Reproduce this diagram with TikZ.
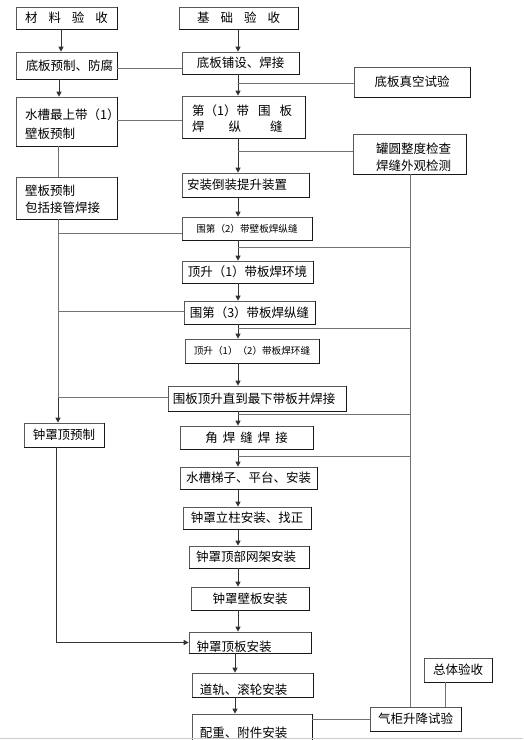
\documentclass[tikz,border=0pt]{standalone}
\usepackage{fontspec}
\setmainfont{Noto Sans CJK SC}
\usetikzlibrary{arrows.meta}
\begin{document}
\begin{tikzpicture}[x=1pt,y=-1pt,
  box/.style={draw=black!65, line width=0.7pt, fill=white, inner sep=0pt,
    font=\fontsize{12.5}{15}\selectfont, text height=10pt, text depth=1pt},
  small/.style={font=\fontsize{9.6}{12}\selectfont, text height=8pt, text depth=1pt},
  txt/.style={inner sep=0pt, anchor=west, font=\fontsize{12.5}{15}\selectfont, text height=10pt, text depth=1pt},
  conn/.style={draw=black!55, line width=0.8pt},
  arr/.style={draw=black!80, line width=0.9pt, -{Triangle[length=5pt,width=5pt]}},
  shade/.style={draw=black!90, line width=1.3pt}]
\useasboundingbox (0,0) rectangle (523,740);
% helper columns
\coordinate (L1) at (61,0);
\coordinate (L2) at (59,0);
\coordinate (L3) at (58,0);
\coordinate (L4) at (56,0);
\coordinate (M) at (238,0);
\coordinate (M2) at (235,0);
\coordinate (R) at (410,0);
\coordinate (Q) at (445,0);
% boxes (left column)
\node[box, minimum width=101pt, minimum height=22pt] (cl) at (66.5,18) {材\hspace{11pt}料\hspace{11pt}验\hspace{11pt}收};
\node[box, minimum width=101pt, minimum height=27pt] (yf) at (66.5,65.5) {\hspace*{6pt}底板预制、防腐};
\node[box, minimum width=101pt, minimum height=49pt] (sc) at (66.5,121.5) {};
\node[txt] (sca) at (25,115) {水槽最上带（1）};
\node[txt] (scb) at (25,133.5) {壁板预制};
\node[box, minimum width=101pt, minimum height=42pt] (bb) at (66.5,198) {};
\node[txt] (bba) at (25,190.5) {壁板预制};
\node[txt] (bbb) at (25,208) {包括接管焊接};
\node[box, minimum width=80pt, minimum height=24pt] (zz) at (64,435) {钟罩顶预制};
% boxes (main column)
\node[box, minimum width=119pt, minimum height=22pt] (jc) at (238.5,18) {基\hspace{11pt}础\hspace{11pt}验\hspace{11pt}收};
\node[box, minimum width=117pt, minimum height=22pt] (pp) at (240.5,63) {底板铺设、焊接};
\node[box, minimum width=116pt, minimum height=30pt] (zk) at (412,82) {底板真空试验};
\node[box, minimum width=123pt, minimum height=42pt] (d1) at (243.5,117) {};
\node[txt] (d1a) at (192,110.5) {第（1）带\hspace{9pt}围\hspace{9pt}板};
\node[txt] (d1b) at (192,127) {焊\hspace{24pt}纵\hspace{29pt}缝};
\node[box, minimum width=113pt, minimum height=40pt] (yz) at (409.5,154) {};
\node[txt] (yza) at (376,148.5) {罐圆整度检查};
\node[txt] (yzb) at (376,165.5) {焊缝外观检测};
\node[box, minimum width=127pt, minimum height=24pt] (az) at (245.5,185) {安装倒装提升装置\hspace*{17pt}\null};
\node[box, small, minimum width=130pt, minimum height=23pt] (w2) at (247,228.5) {围第（2）带壁板焊纵缝};
\node[box, minimum width=131pt, minimum height=22pt] (ds) at (247.5,272) {顶升（1）带板焊环境};
\node[box, minimum width=131pt, minimum height=23pt] (w3) at (249.5,312.5) {围第（3）带板焊纵缝};
\node[box, small, minimum width=134pt, minimum height=24pt] (ds2) at (252,351) {顶升（1）（2）带板焊环缝};
\node[box, minimum width=178pt, minimum height=25pt] (wd) at (257,398.5) {围板顶升直到最下带板并焊接\hspace*{6pt}\null};
\node[box, minimum width=133pt, minimum height=23pt] (jh) at (246.5,437.5) {角\hspace{5pt}焊\hspace{5pt}缝\hspace{5pt}焊\hspace{5pt}接};
\node[box, minimum width=137pt, minimum height=22pt] (st) at (248.5,478) {水槽梯子、平台、安装};
\node[box, minimum width=128pt, minimum height=22pt] (lz) at (247,518) {钟罩立柱安装、找正};
\node[box, minimum width=120pt, minimum height=22pt] (wj) at (249,557) {钟罩顶部网架安装\hspace*{6pt}\null};
\node[box, minimum width=118pt, minimum height=23pt] (bz) at (250,598.5) {钟罩壁板安装};
\node[box, minimum width=122pt, minimum height=21pt] (db) at (250,642.5) {\raisebox{-4.5pt}{钟罩顶板安装}\hspace*{32pt}\null};
\node[box, minimum width=121pt, minimum height=24pt] (dg) at (252.5,685) {\raisebox{-5pt}{道轨、滚轮安装}\hspace*{18pt}\null};
\node[box, minimum width=120pt, minimum height=38pt] (pz) at (252,733) {配重、附件安装\hspace*{17pt}\null};
\node[box, minimum width=91pt, minimum height=24pt] (qg) at (415.5,719) {气柜升降试验};
\node[box, minimum width=68pt, minimum height=24pt] (zt) at (458,670) {总体验收};
% darker right and bottom edges
\foreach \n in {cl,yf,sc,bb,zz,jc,pp,zk,d1,yz,az,w2,ds,w3,ds2,wd,jh,st,lz,wj,bz,db,dg,pz,qg,zt}
  \draw[shade] (\n.north east) -- (\n.south east) -- (\n.south west);
% left column
\draw[arr] (cl.south -| L1) -- (yf.north -| L1);
\draw[arr] (yf.south -| L2) -- (sc.north -| L2);
\draw[conn] (sc.south -| L3) -- (bb.north -| L3);
\coordinate (l1) at (58,233);
\coordinate (l2) at (58,311);
\coordinate (l3) at (58,397);
\draw[conn] (bb.south -| L3) -- (l3);
\draw[arr] (l3) -- (zz.north -| L3);
\draw[conn] (l1) -- (l1 -| w2.west);
\draw[conn] (l2) -- (l2 -| w3.west);
\draw[conn] (l3) -- (l3 -| wd.west);
\draw[arr] (zz.south -| L4) |- (db.west);
% cross links
\coordinate (h1) at (0,68);
\coordinate (h2) at (0,120);
\draw[conn] (yf.east |- h1) -- (pp.west |- h1);
\draw[conn] (sc.east |- h2) -- (d1.west |- h2);
% main column
\draw[arr] (jc.south -| M) -- (pp.north -| M);
\draw[arr] (pp.south -| M) -- (d1.north -| M);
\draw[arr] (d1.south -| M) -- (az.north -| M);
\draw[arr] (az.south -| M) -- (w2.north -| M);
\draw[arr] (w2.south -| M) -- (ds.north -| M);
\draw[arr] (ds.south -| M) -- (w3.north -| M);
\draw[arr] (w3.south -| M) -- (ds2.north -| M);
\draw[arr] (ds2.south -| M) -- (wd.north -| M);
\draw[arr] (wd.south -| M) -- (jh.north -| M);
\draw[arr] (jh.south -| M) -- (st.north -| M);
\draw[arr] (st.south -| M) -- (lz.north -| M);
\draw[arr] (lz.south -| M) -- (wj.north -| M);
\draw[arr] (wj.south -| M) -- (bz.north -| M);
\draw[arr] (bz.south -| M) -- (db.north -| M);
\draw[arr] (db.south -| M2) -- (dg.north -| M2);
\draw[arr] (dg.south -| M2) -- (pz.north -| M2);
% branches to the right
\coordinate (b1) at (238,83);
\coordinate (b2) at (238,151);
\draw[conn] (b1) -- (b1 -| zk.west);
\draw[conn] (b2) -- (b2 -| yz.west);
\coordinate (r1) at (238,247);
\coordinate (r2) at (238,328);
\coordinate (r3) at (238,414);
\coordinate (r4) at (238,456);
\draw[conn] (r1) -- (r1 -| R);
\draw[conn] (r2) -- (r2 -| R);
\draw[conn] (r3) -- (r3 -| R);
\draw[conn] (r4) -- (r4 -| R);
\draw[conn] (yz.south -| R) -- (qg.north -| R);
\draw[conn] (zt.south -| Q) -- (qg.north -| Q);
\draw[conn] (qg.west -| pz.east) -- (qg.west);
% bottom edge line
\draw[draw=black!20, line width=1pt] (0,738.5) -- (523,738.5);
\end{tikzpicture}
\end{document}
